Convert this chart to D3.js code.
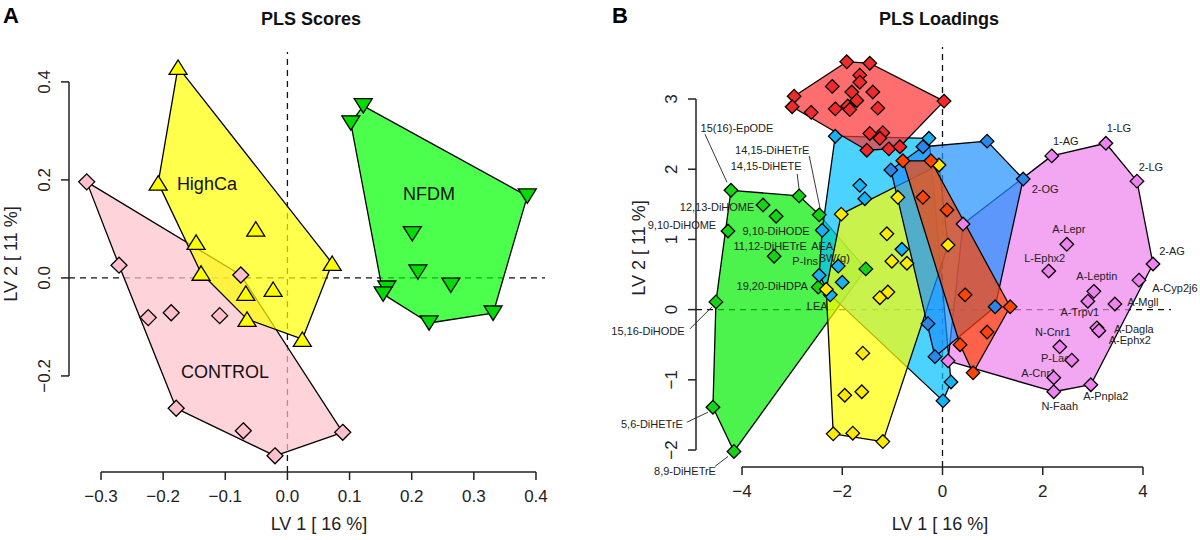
<!DOCTYPE html>
<html><head><meta charset="utf-8">
<script src="https://cdn.jsdelivr.net/npm/d3@7"></script>
<style>body{margin:0;background:#fff}svg{display:block}</style>
</head><body>
<script>
// ---------------- Panel A: PLS scores ----------------
const scoreClasses = ["CONTROL", "HighCa", "NFDM"];
const controlLV1 = [-0.323,-0.271,-0.224,-0.187,-0.109,-0.075,-0.179,-0.071,-0.020,0.089];
const controlLV2 = [0.196,0.026,-0.081,-0.071,-0.077,0.006,-0.266,-0.312,-0.363,-0.315];
const highcaLV1  = [-0.176,-0.208,-0.147,-0.051,-0.139,-0.067,-0.023,-0.065,0.072,0.024];
const highcaLV2  = [0.430,0.194,0.073,0.100,0.010,-0.031,-0.023,-0.084,0.030,-0.125];
const nfdmLV1    = [0.122,0.102,0.386,0.201,0.210,0.263,0.160,0.154,0.228,0.331];
const nfdmLV2    = [0.351,0.316,0.167,0.090,0.012,-0.015,-0.021,-0.033,-0.092,-0.072];
const scoreTicksX = [-0.3,-0.2,-0.1,0,0.1,0.2,0.3,0.4];
const scoreTicksY = [-0.2,0,0.2,0.4];

// ---------------- Panel B: PLS loadings ----------------
const greenLV1 = [-4.22,-2.86,-2.46,-3.58,-3.32,-4.28,-3.36,-2.48,-4.52,-4.58,-4.16,-1.53];
const greenLV2 = [1.70,1.62,1.35,1.49,1.33,1.12,0.76,0.32,0.11,-1.39,-2.02,0.58];
const greenNames = ["15(16)-EpODE","14,15-DiHETE","14,15-DiHETrE","12,13-DiHOME","9,10-DiHODE","9,10-DiHOME","11,12-DiHETrE","19,20-DiHDPA","15,16-DiHODE","5,6-DiHETrE","8,9-DiHETrE",""];

const skyLV1 = [-2.14,-0.27,-1.65,-1.55,-2.40,-0.81,-2.08,-2.46,-2.00,-2.24,0.17,0.01];
const skyLV2 = [2.47,2.44,1.77,1.58,1.13,0.86,0.62,0.49,0.39,0.21,-1.03,-1.30];
const skyNames = ["","","","","AEA","","BW(g)","P-Ins","","LEA","",""];

const redLV1 = [-1.91,-1.45,-1.65,-2.20,-1.65,-1.81,-1.39,-2.96,-1.71,-3.00,-2.62,-2.14,-1.89,-1.85,-1.29,0.03,-1.45,-1.19,-1.25,-1.51,-1.07,-0.85];
const redLV2 = [3.53,3.51,3.34,3.18,3.24,3.10,3.10,3.04,2.98,2.89,2.81,2.86,2.90,2.85,2.87,2.97,2.51,2.52,2.44,2.27,2.29,2.32];

const yellowLV1 = [-0.07,-0.89,-2.02,-1.11,0.11,-1.01,-0.71,-1.09,-1.25,-1.59,-1.95,-1.61,-2.18,-1.79,-1.19,-2.32];
const yellowLV2 = [2.06,1.60,1.36,1.08,0.92,0.69,0.66,0.25,0.17,-0.62,-1.22,-1.17,-1.77,-1.76,-1.88,0.29];

const violetLV1 = [2.18,3.26,3.88,4.20,3.92,2.48,2.12,3.02,2.90,3.44,3.08,3.12,2.34,2.58,2.22,2.22,2.96,0.41,0.11];
const violetLV2 = [2.19,2.37,1.83,0.65,0.42,0.93,0.55,0.26,0.12,0.08,-0.26,-0.30,-0.53,-0.72,-0.97,-1.17,-1.07,1.22,-0.73];
const violetNames = ["1-AG","1-LG","2-LG","2-AG","A-Cyp2j6","A-Lepr","L-Ephx2","A-Leptin","A-Trpv1","A-Mgll","A-Dagla","A-Ephx2","N-Cnr1","P-Lact","A-Cnr1","N-Faah","A-Pnpla2","",""];

const blueLV1 = [0.89,-0.39,-1.03,1.61,-0.29,-0.15,1.05];
const blueLV2 = [2.40,2.32,1.99,1.86,-0.20,-0.67,0.04];
const blueNames = ["","","","2-OG","","",""];

const orangeLV1 = [-0.79,-0.23,-0.39,0.09,0.45,1.35,0.89,0.35,0.61];
const orangeLV2 = [2.12,2.12,1.60,1.42,0.21,0.04,-0.32,-0.50,-0.90];

const loadTicksX = [-4,-2,0,2,4];
const loadTicksY = [-2,-1,0,1,2,3];

// ---------------- layout / style ----------------
const W = 1200, H = 540;
const FONT = "'Liberation Sans', Arial, Helvetica, sans-serif";
const svg = d3.select("body").append("svg").attr("width", W).attr("height", H)
  .style("font-family", FONT);

const scoreStyle = {
  CONTROL: {poly: "#FFC0CB", pt: "#FFC0CB", shape: "diamond"},
  HighCa:  {poly: "#FFFF00", pt: "#FFFF00", shape: "up"},
  NFDM:    {poly: "#00FF00", pt: "#00DD00", shape: "down"}
};
const scoreLabelAt = {CONTROL: [-0.1004, -0.1916], HighCa: [-0.1296, 0.1933], NFDM: [0.2279, 0.1732]};

// label placements (pixel offsets of text centre from its point, optional leader line)
const labelLayout = {
  "15(16)-EpODE": {dx: 6, dy: -62, lead: [-26,-56,-4,-8]},
  "14,15-DiHETE": {dx: -33, dy: -30, lead: [-2,-22,0,-6]},
  "14,15-DiHETrE": {dx: -47, dy: -65, lead: [-10,-59,1,-6]},
  "12,13-DiHOME": {dx: -46, dy: 2},
  "9,10-DiHODE": {dx: 0, dy: 15},
  "9,10-DiHOME": {dx: -46, dy: -6},
  "11,12-DiHETrE": {dx: -4, dy: -10},
  "19,20-DiHDPA": {dx: -46, dy: -1},
  "15,16-DiHODE": {dx: -68, dy: 29, lead: [-26,27,-4,5]},
  "5,6-DiHETrE": {dx: -61, dy: 17, lead: [-26,15,-5,5]},
  "8,9-DiHETrE": {dx: -49, dy: 20, lead: [-19,15,-6,5]},
  "AEA": {dx: 0, dy: 16},
  "BW(g)": {dx: -4, dy: -8},
  "P-Ins": {dx: -14, dy: -14},
  "LEA": {dx: -13, dy: 11},
  "2-OG": {dx: 22, dy: 10},
  "1-AG": {dx: 14, dy: -15},
  "1-LG": {dx: 13, dy: -15},
  "2-LG": {dx: 14, dy: -14},
  "2-AG": {dx: 19, dy: -13},
  "A-Cyp2j6": {dx: 36, dy: 8},
  "A-Lepr": {dx: 2, dy: -15},
  "L-Ephx2": {dx: -4, dy: -13},
  "A-Leptin": {dx: 3, dy: -15},
  "A-Trpv1": {dx: -8, dy: 11},
  "A-Mgll": {dx: 28, dy: -2},
  "A-Dagla": {dx: 37, dy: 1},
  "A-Ephx2": {dx: 31, dy: 9},
  "N-Cnr1": {dx: -7, dy: -15},
  "P-Lact": {dx: -15, dy: -2},
  "A-Cnr1": {dx: -15, dy: -5},
  "N-Faah": {dx: 6, dy: 14},
  "A-Pnpla2": {dx: 15, dy: 11}
};

function zip(a, b, names) { return a.map((v, i) => ({x: v, y: b[i], name: names ? names[i] : ""})); }

function shapePath(shape, s) {
  if (shape === "diamond") return `M0,${-s}L${s},0L0,${s}L${-s},0Z`;
  if (shape === "up") return `M0,${-s*0.8}L${s},${s*0.8}L${-s},${s*0.8}Z`;
  return `M0,${s*0.8}L${s},${-s*0.8}L${-s},${-s*0.8}Z`;
}

function drawAxes(x, y, xt, yt, fmt, xlab, xlabX, ylab, ylabY, ylabX) {
  const g = svg.append("g");
  const ax = x.range()[0], ay = y.range()[0];
  const col = "#222";
  // x axis
  g.append("line").attr("x1", x(xt[0])).attr("x2", x(xt[xt.length-1])).attr("y1", ay).attr("y2", ay)
    .attr("stroke", col).attr("stroke-width", 1.5);
  g.selectAll(".xt").data(xt).join("line").attr("x1", d => x(d)).attr("x2", d => x(d))
    .attr("y1", ay).attr("y2", ay + 8).attr("stroke", col).attr("stroke-width", 1.5);
  g.selectAll(".xl").data(xt).join("text").attr("x", d => x(d)).attr("y", ay + 30)
    .attr("text-anchor", "middle").attr("font-size", 17).attr("fill", col).text(fmt);
  // y axis
  g.append("line").attr("x1", ax).attr("x2", ax).attr("y1", y(yt[0])).attr("y2", y(yt[yt.length-1]))
    .attr("stroke", col).attr("stroke-width", 1.5);
  g.selectAll(".yt").data(yt).join("line").attr("x1", ax).attr("x2", ax - 8)
    .attr("y1", d => y(d)).attr("y2", d => y(d)).attr("stroke", col).attr("stroke-width", 1.5);
  g.selectAll(".yl").data(yt).join("text")
    .attr("transform", d => `translate(${ax - 19},${y(d)}) rotate(-90)`)
    .attr("text-anchor", "middle").attr("font-size", 17).attr("fill", col).text(fmt);
  // labels
  g.append("text").attr("x", xlabX).attr("y", 530).attr("text-anchor", "middle")
    .attr("font-size", 18).attr("fill", col).text(xlab);
  g.append("text").attr("transform", `translate(${ylabX},${ylabY}) rotate(-90)`)
    .attr("text-anchor", "middle").attr("font-size", 18).attr("fill", col).text(ylab);
}

function zeroLines(x, y) {
  const g = svg.append("g").attr("stroke", "#111").attr("stroke-width", 1.3).attr("stroke-dasharray", "6,5");
  g.append("line").attr("x1", x.range()[0]).attr("x2", x.range()[1]).attr("y1", y(0)).attr("y2", y(0));
  g.append("line").attr("x1", x(0)).attr("x2", x(0)).attr("y1", y.range()[0]).attr("y2", y.range()[1]);
}

function hull(g, pts, x, y, color, op) {
  const h = d3.polygonHull(pts.map(p => [x(p.x), y(p.y)]));
  g.append("path").attr("d", "M" + h.join("L") + "Z").attr("fill", color).attr("fill-opacity", op)
    .attr("stroke", "#000").attr("stroke-width", 1.3).attr("stroke-linejoin", "round");
}

// ================= Panel A =================
const xA = d3.scaleLinear().domain([-0.3515, 0.4145]).range([69, 545]);
const yA = d3.scaleLinear().domain([-0.396, 0.461]).range([472, 52]);
const scoreData = {
  CONTROL: zip(controlLV1, controlLV2),
  HighCa: zip(highcaLV1, highcaLV2),
  NFDM: zip(nfdmLV1, nfdmLV2)
};
zeroLines(xA, yA);
const polyA = svg.append("g");
scoreClasses.forEach(c => hull(polyA, scoreData[c], xA, yA, scoreStyle[c].poly, 0.7));
const ptsA = svg.append("g");
scoreClasses.forEach(c => {
  ptsA.selectAll(null).data(scoreData[c]).join("path")
    .attr("transform", d => `translate(${xA(d.x)},${yA(d.y)})`)
    .attr("d", shapePath(scoreStyle[c].shape, scoreStyle[c].shape === "diamond" ? 8 : 9))
    .attr("fill", scoreStyle[c].pt).attr("stroke", "#000").attr("stroke-width", 1.3);
});
scoreClasses.forEach(c => {
  svg.append("text").attr("x", xA(scoreLabelAt[c][0])).attr("y", yA(scoreLabelAt[c][1]) + 6.5)
    .attr("text-anchor", "middle").attr("font-size", 18).attr("fill", "#111").text(c);
});
drawAxes(xA, yA, scoreTicksX, scoreTicksY, d3.format(".1f"), "LV 1 [ 16 %]", 319, "LV 2 [ 11 %]", 254, 17);
svg.append("text").attr("x", 311).attr("y", 25).attr("text-anchor", "middle").attr("font-size", 18)
  .attr("font-weight", "bold").attr("fill", "#111").text("PLS Scores");
svg.append("text").attr("x", 3).attr("y", 23).attr("font-size", 22).attr("font-weight", "bold")
  .attr("fill", "#000").text("A");

// ================= Panel B =================
const xB = d3.scaleLinear().domain([-4.918, 4.559]).range([696, 1171]);
const yB = d3.scaleLinear().domain([-2.242, 3.741]).range([467, 47]);
const loadGroups = [
  {key: "green",  pts: zip(greenLV1, greenLV2, greenNames), poly: "#00EE00", pt: "#14D414"},
  {key: "sky",    pts: zip(skyLV1, skyLV2, skyNames),       poly: "#00BFFF", pt: "#18B2F2"},
  {key: "red",    pts: zip(redLV1, redLV2),                 poly: "#FF3030", pt: "#F02A2A"},
  {key: "yellow", pts: zip(yellowLV1, yellowLV2),           poly: "#FFFF00", pt: "#FFEA00"},
  {key: "violet", pts: zip(violetLV1, violetLV2, violetNames), poly: "#EE82EE", pt: "#EE82EE"},
  {key: "blue",   pts: zip(blueLV1, blueLV2, blueNames),    poly: "#1E90FF", pt: "#2A86E8"},
  {key: "orange", pts: zip(orangeLV1, orangeLV2),           poly: "#FF4500", pt: "#FF4500"}
];
zeroLines(xB, yB);
const polyB = svg.append("g");
loadGroups.forEach(gr => hull(polyB, gr.pts, xB, yB, gr.poly, 0.7));
// labels
const labB = svg.append("g").attr("font-size", 11).attr("fill", "#222");
loadGroups.forEach(gr => gr.pts.filter(p => p.name).forEach(p => {
  const L = labelLayout[p.name], px = xB(p.x), py = yB(p.y);
  labB.append("text").attr("x", px + L.dx).attr("y", py + L.dy + 4).attr("text-anchor", "middle").text(p.name);
  if (L.lead) labB.append("line").attr("x1", px + L.lead[0]).attr("y1", py + L.lead[1])
    .attr("x2", px + L.lead[2]).attr("y2", py + L.lead[3]).attr("stroke", "#222").attr("stroke-width", 0.9);
}));
const ptsB = svg.append("g");
loadGroups.forEach(gr => {
  ptsB.selectAll(null).data(gr.pts).join("path")
    .attr("transform", d => `translate(${xB(d.x)},${yB(d.y)})`)
    .attr("d", shapePath("diamond", 6.8)).attr("fill", gr.pt).attr("stroke", "#000").attr("stroke-width", 1.3);
});
drawAxes(xB, yB, loadTicksX, loadTicksY, d3.format("d"), "LV 1 [ 16 %]", 940, "LV 2 [ 11 %]", 248, 645);
svg.append("text").attr("x", 939).attr("y", 25).attr("text-anchor", "middle").attr("font-size", 18)
  .attr("font-weight", "bold").attr("fill", "#111").text("PLS Loadings");
svg.append("text").attr("x", 612).attr("y", 23).attr("font-size", 22).attr("font-weight", "bold")
  .attr("fill", "#000").text("B");
</script>
</body></html>
